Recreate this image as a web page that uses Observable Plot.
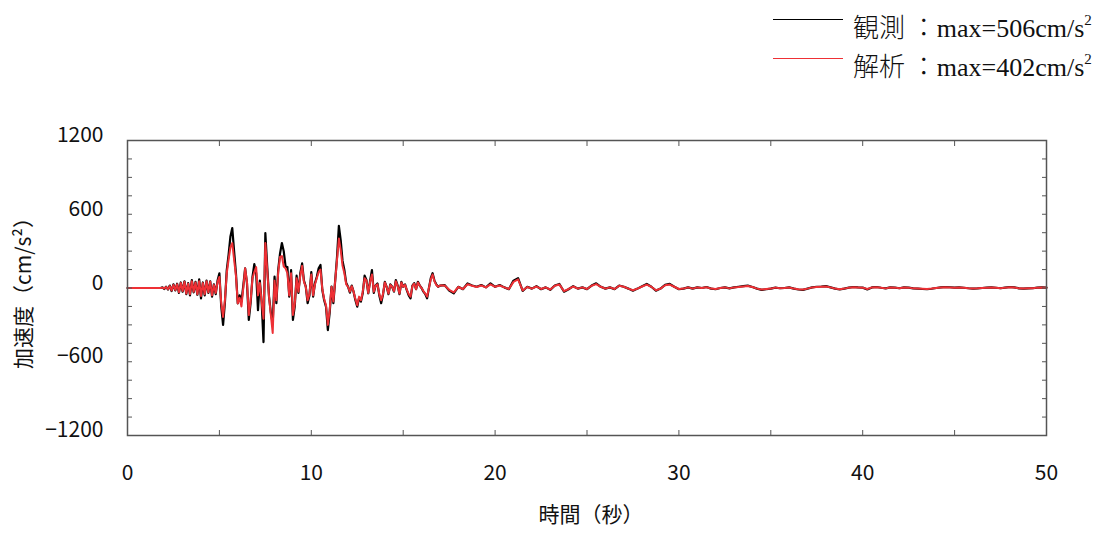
<!DOCTYPE html>
<html><head><meta charset="utf-8">
<script src="https://cdn.jsdelivr.net/npm/d3@7"></script>
<script src="https://cdn.jsdelivr.net/npm/@observablehq/plot@0.6"></script>
<style>
body{margin:0;background:#fff;}
#wrap{position:relative;width:1095px;height:534px;overflow:hidden;}
.lg-line{position:absolute;left:773px;width:70px;height:1px;}
.lg-text{position:absolute;left:853px;font-family:"Liberation Serif","Noto Sans CJK JP",serif;font-size:26px;line-height:30px;color:#111;white-space:nowrap;}
.lg-text .cjk{font-family:"Noto Sans CJK JP",sans-serif;font-weight:300;}
.lg-text sup{font-size:15px;position:relative;top:-2px;}
#chart{position:absolute;left:0;top:0;}
</style></head>
<body>
<div id="wrap">
  <div id="chart"></div>
  <div class="lg-line" style="top:19px;background:#000;"></div>
  <div class="lg-text" id="lg1" style="top:7px;"></div>
  <div class="lg-line" style="top:58px;background:#ee3035;"></div>
  <div class="lg-text" id="lg2" style="top:46px;"></div>
</div>
<script>
// ---- series names / legend ----
const seriesNames = ["観測", "解析"];
const seriesMax = [506, 402];
const seriesColors = ["#000000", "#ee3035"];

// ---- axis tick values ----
const xMinorTicks = [0, 5, 10, 15, 20, 25, 30, 35, 40, 45, 50];
const xLabelTicks = [0, 10, 20, 30, 40, 50];
const yMinorTicks = [-1200, -1050, -900, -750, -600, -450, -300, -150, 0, 150, 300, 450, 600, 750, 900, 1050, 1200];
const yLabelTicks = [-1200, -600, 0, 600, 1200];
const xTitle = "時間（秒）";
const yTitle = "加速度（cm/s²）";

// ---- sampling of the time series ----
const startFlat = 0;          // record start (quiet part)
const t0A = 1.8, dtA = 0.1;    // strong-motion segment
const t0B = 17.25, dtB = 0.25; // coda segment

// observed (観測), segment A: t = 1.8 .. 17.0
const obsA = [
  0, 5,
  -8, 10, -12, 20, -25, 30, -20, 35, -40, 45,
  -30, 55, -50, 40, -60, 65, -35, 50, -55, 70,
  -85, 45, -60, 60, -40, 55, -70, 30, -50, 60,
  120, -150, -300, -120, 145, 270, 420, 488, 300, 120,
  -125, -60, -110, 20, 160, 40, -260, -120, 90, 194,
  120, -180, 60, -116, -440, 447, 180, -70, -200, -290,
  92, -124, 150, 282, 366, 300, 175, 170, -70, 146,
  -260, -150, 100, -40, 120, 200, 60, 11, -124, -60,
  130, -70, 40, 92, 160, 187, -16, -100, -152, -342,
  -200, 11, -124, 60, 253, 506, 390, 220, 146, 40,
  11, -38, 20, -30, -100, -152, -80, -111, -40, 101,
  65, -43, 60, 146, -40, 20, 37, -60, -124, -56,
  50, 10, -50, 30, 10, -30, 65, 20, -50, 50,
  10, 30, -20, -60, -84, 20, 40, -10, 50, 20,
  0, -30, -50, -84, 0, 80, 120, 60, 30, 10,
  20
];
// analysis (解析), segment A
const simA = [
  0, 3,
  -5, 8, -10, 15, -20, 25, -15, 30, -35, 40,
  -25, 50, -45, 35, -50, 55, -30, 45, -50, 55,
  -65, 40, -50, 55, -35, 50, -60, 25, -40, 50,
  90, -120, -235, -100, 120, 230, 330, 365, 230, 100,
  -125, -80, -150, 0, 160, 50, -220, -100, 80, 130,
  170, -60, 40, -116, -250, 366, 150, -70, -220, -366,
  60, -100, 130, 253, 260, 175, 160, 120, -60, 120,
  -220, -130, 80, -30, 100, 180, 50, 10, -100, -50,
  110, -60, 30, 80, 130, 150, -10, -90, -140, -300,
  -180, 10, -110, 60, 230, 402, 310, 180, 120, 30,
  10, -30, 15, -30, -90, -140, -70, -100, -30, 80,
  60, -40, 50, 110, -30, 20, 30, -50, -100, -50,
  45, 10, -45, 25, 10, -25, 55, 15, -45, 45,
  10, 25, -15, -50, -70, 15, 35, -10, 45, 20,
  0, -25, -45, -70, 0, 70, 110, 55, 25, 10,
  20
];
// observed, segment B: t = 17.25 .. 50.0 (4 samples per second)
const obsB = [
  24, -20, -43, 10,   -10, 37, 20, 10,   24, 5, 37, 10,   24, 5, -10, 60,
  80, -24, 10, -5,    15, -10, 5, -15,   20, 33, -30, -10, 15, -5, 5, -10,
  20, 38, 10, -5,     5, -10, 20, 10,    -5, -22, -5, 15, 33, 10, -22, -5,
  25, 33, 10, -10,    -5, 5, -5, 5,      0, 8, -5, -10,   0, 5, -3, 5,
  10, 15, 19, 8,      -5, -15, -10, -5,  3, -2, 0, 5,     -5, -12, -15, -5,
  5, 10, 12, 15,      5, -5, -12, -5,    3, 8, 5, 3,      -12, 5, 8, 2,
  -3, 5, 3, -2,       5, 3, -3, -5,      -8, -10, -6, 0,  5, 8, 6, 3,
  5, 2, -2, -5,       -3, 0, 3, 5,       2, -2, 3, 8,     5, -3, -5, -3,
  -2, 3, 5, 3
];
// analysis, segment B
const simB = [
  20, -15, -35, 8,    -8, 30, 18, 8,     20, 5, 30, 10,   20, 5, -8, 50,
  70, -20, 8, -5,     12, -8, 5, -12,    18, 28, -25, -8, 12, -5, 5, -8,
  18, 32, 10, -5,     5, -8, 18, 10,     -5, -18, -5, 12, 28, 10, -18, -5,
  22, 28, 10, -8,     -5, 5, -5, 5,      0, 6, -5, -8,    0, 5, -3, 5,
  8, 12, 16, 8,       -5, -12, -8, -5,   3, -2, 0, 4,     -5, -10, -12, -5,
  5, 8, 10, 12,       5, -5, -10, -5,    3, 6, 5, 3,      -8, 5, 6, 2,
  -3, 4, 3, -2,       4, 3, -3, -4,      -6, -8, -5, 0,   4, 6, 5, 3,
  4, 2, -2, -4,       -3, 0, 3, 4,       2, -2, 3, 6,     4, -3, -4, -3,
  -2, 3, 4, 3
];

function build(a, b) {
  const rows = [{t: startFlat, v: 0}];
  a.forEach((v, i) => rows.push({t: +(t0A + i * dtA).toFixed(3), v}));
  b.forEach((v, i) => rows.push({t: +(t0B + i * dtB).toFixed(3), v}));
  return rows;
}
const obs = build(obsA, obsB);
const sim = build(simA, simB);

// legend
document.getElementById("lg1").innerHTML = `<span class="cjk">${seriesNames[0]} ：</span>max=${seriesMax[0]}cm/s<sup>2</sup>`;
document.getElementById("lg2").innerHTML = `<span class="cjk">${seriesNames[1]} ：</span>max=${seriesMax[1]}cm/s<sup>2</sup>`;

const axisColor = "#555";
const chart = Plot.plot({
  width: 1095,
  height: 534,
  marginTop: 140,
  marginBottom: 99,
  marginLeft: 127,
  marginRight: 49,
  style: {fontFamily: "'Noto Sans CJK JP', 'Noto Sans', sans-serif", fontSize: "21px", color: "#111", background: "white"},
  x: {domain: [0, 50]},
  y: {domain: [-1200, 1200]},
  marks: [
    Plot.line(obs, {x: "t", y: "v", stroke: seriesColors[0], strokeWidth: 2.2}),
    Plot.line(sim, {x: "t", y: "v", stroke: seriesColors[1], strokeWidth: 2}),
    Plot.frame({stroke: axisColor, strokeWidth: 1.5}),
    Plot.axisX({anchor: "bottom", ticks: xMinorTicks, tickSize: -5, tickFormat: () => "", stroke: axisColor, label: null}),
    Plot.axisX({anchor: "top", ticks: xMinorTicks, tickSize: -5, tickFormat: () => "", stroke: axisColor, label: null}),
    Plot.axisX({anchor: "bottom", ticks: xLabelTicks, tickSize: 0, tickPadding: 30, fontSize: 21, label: null}),
    Plot.axisY({anchor: "left", ticks: yMinorTicks, tickSize: -5, tickFormat: () => "", stroke: axisColor, label: null}),
    Plot.axisY({anchor: "right", ticks: yMinorTicks, tickSize: -5, tickFormat: () => "", stroke: axisColor, label: null}),
    Plot.axisY({anchor: "left", ticks: yLabelTicks, tickSize: 0, tickPadding: 24, dy: -5, fontSize: 21, label: null,
      tickFormat: d => d < 0 ? "−" + Math.abs(d) : String(d)}),
    Plot.text([xTitle], {frameAnchor: "bottom", lineAnchor: "middle", textAnchor: "middle", dy: 80, dx: 4, fontSize: 21, fill: "#111"}),
    Plot.text([yTitle], {frameAnchor: "left", textAnchor: "middle", lineAnchor: "middle", dx: -103, rotate: -90, fontSize: 21, fill: "#111"})
  ]
});
document.getElementById("chart").appendChild(chart);
</script>
</body></html>
